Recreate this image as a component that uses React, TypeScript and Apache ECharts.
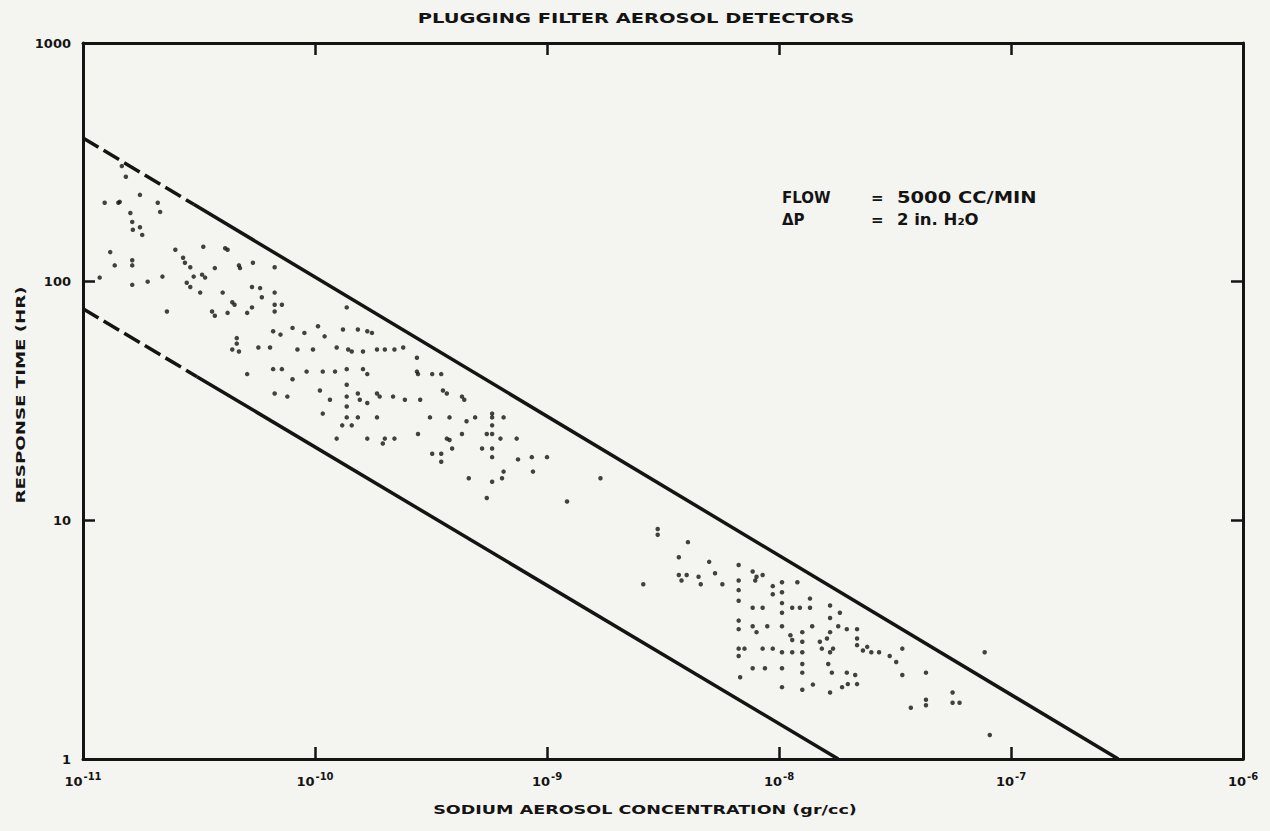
import React, { useEffect, useRef } from "react";
import * as echarts from "echarts";

// Axis extents (log scales)
const xRange = [1e-11, 1e-6];
const yRange = [1, 1000];

// Boundary lines of the data band [concentration gr/cc, response time hr]
const upperBoundDashed = [[1e-11, 400], [3e-11, 211]];
const upperBoundSolid = [[3e-11, 211], [2.9e-7, 1]];
const lowerBoundDashed = [[1e-11, 77], [3.1e-11, 40]];
const lowerBoundSolid = [[3.1e-11, 40], [1.8e-8, 1]];

// Measured points, low concentration group (10^-11 .. 10^-9)
const lowRangePoints = [
  [1.24e-11, 214], [1.42e-11, 214], [1.6e-11, 194], [1.63e-11, 178], [1.64e-11, 165],
  [1.76e-11, 169], [1.8e-11, 157], [1.76e-11, 231], [2.1e-11, 214], [2.15e-11, 196],
  [1.31e-11, 133], [1.37e-11, 117], [1.63e-11, 123], [1.63e-11, 117], [1.63e-11, 97],
  [1.18e-11, 104], [1.9e-11, 100], [2.2e-11, 105], [2.3e-11, 75], [2.5e-11, 136],
  [2.7e-11, 126], [2.75e-11, 120], [2.9e-11, 115], [2.8e-11, 99], [2.9e-11, 95],
  [3.0e-11, 105], [3.26e-11, 107], [3.36e-11, 104], [3.2e-11, 90], [3.3e-11, 140],
  [3.7e-11, 114], [4.1e-11, 138], [4.2e-11, 136], [4.0e-11, 90], [3.6e-11, 75],
  [3.7e-11, 72], [4.2e-11, 74], [4.4e-11, 82], [4.5e-11, 80], [4.7e-11, 117],
  [4.75e-11, 114], [5.4e-11, 120], [5.1e-11, 74], [5.35e-11, 78], [5.35e-11, 95],
  [5.8e-11, 94], [5.9e-11, 86], [6.7e-11, 115], [6.7e-11, 90], [6.7e-11, 80],
  [6.7e-11, 75], [7.2e-11, 80], [4.6e-11, 58], [4.6e-11, 55], [4.4e-11, 52],
  [4.7e-11, 51], [5.7e-11, 53], [6.4e-11, 53], [6.6e-11, 62], [7.1e-11, 60],
  [5.1e-11, 41], [6.6e-11, 43], [7.2e-11, 43], [8.0e-11, 64], [8.4e-11, 52],
  [9.0e-11, 61], [9.8e-11, 52], [1.03e-10, 65], [1.1e-10, 59], [1.24e-10, 53],
  [1.32e-10, 63], [1.53e-10, 63], [1.37e-10, 78], [1.39e-10, 52], [1.44e-10, 51],
  [1.68e-10, 62], [1.76e-10, 61], [1.61e-10, 51], [1.85e-10, 52], [2.0e-10, 52],
  [9.2e-11, 42], [1.08e-10, 42], [1.22e-10, 42], [1.37e-10, 43], [1.61e-10, 43],
  [1.68e-10, 41], [8.0e-11, 39], [6.7e-11, 34], [7.6e-11, 33], [1.05e-10, 35],
  [1.16e-10, 32], [1.37e-10, 37], [1.37e-10, 33], [1.37e-10, 30], [1.37e-10, 27],
  [1.53e-10, 34], [1.56e-10, 32], [1.68e-10, 31], [1.85e-10, 34], [1.9e-10, 33],
  [2.17e-10, 33], [2.44e-10, 32], [2.84e-10, 32], [2.75e-10, 42], [2.78e-10, 41],
  [2.2e-10, 52], [2.4e-10, 53], [2.75e-10, 48], [3.2e-10, 41], [3.5e-10, 41],
  [3.56e-10, 35], [3.7e-10, 34], [4.3e-10, 33], [4.4e-10, 32], [1.08e-10, 28],
  [1.31e-10, 25], [1.44e-10, 25], [1.53e-10, 27], [1.85e-10, 27], [1.24e-10, 22],
  [1.68e-10, 22], [2.0e-10, 22], [1.96e-10, 21], [2.2e-10, 22], [2.78e-10, 23],
  [3.13e-10, 27], [3.8e-10, 27], [3.2e-10, 19], [3.5e-10, 19], [3.5e-10, 17.6],
  [3.7e-10, 22], [3.8e-10, 21.7], [4.3e-10, 23], [3.9e-10, 20], [4.5e-10, 26],
  [4.9e-10, 27], [5.8e-10, 28], [5.8e-10, 27], [5.8e-10, 25], [5.8e-10, 23],
  [5.5e-10, 23], [6.3e-10, 22], [7.4e-10, 22], [5.25e-10, 20], [5.8e-10, 20],
  [5.8e-10, 18.4], [6.5e-10, 16], [6.4e-10, 15], [5.8e-10, 14.5], [4.6e-10, 15],
  [7.5e-10, 18], [8.6e-10, 18.4], [1.0e-9, 18.4], [8.7e-10, 16], [5.5e-10, 12.4],
  [6.5e-10, 27], [1.47e-11, 305], [1.53e-11, 275], [1.44e-11, 216]
];

// Measured points, high concentration group (10^-9 .. 10^-7)
const highRangePoints = [
  [1.22e-9, 12], [1.7e-9, 15], [3.0e-9, 9.2], [3.0e-9, 8.7], [4.05e-9, 8.1],
  [3.7e-9, 7.0], [2.6e-9, 5.4], [3.7e-9, 5.9], [3.8e-9, 5.6], [4.0e-9, 5.9],
  [4.5e-9, 5.8], [4.6e-9, 5.4], [5.0e-9, 6.7], [5.3e-9, 6.0], [5.7e-9, 5.4],
  [6.7e-9, 6.5], [6.7e-9, 5.6], [6.7e-9, 5.1], [6.7e-9, 4.6], [6.7e-9, 3.8],
  [6.7e-9, 3.5], [6.7e-9, 2.9], [6.7e-9, 2.7], [6.8e-9, 2.2], [7.7e-9, 6.1],
  [8.0e-9, 5.8], [7.9e-9, 5.6], [8.5e-9, 5.9], [7.7e-9, 4.3], [8.5e-9, 4.3],
  [7.7e-9, 3.6], [8.0e-9, 3.4], [8.9e-9, 3.6], [7.1e-9, 2.9], [7.7e-9, 2.4],
  [8.7e-9, 2.4], [1.03e-8, 5.5], [1.03e-8, 5.0], [1.03e-8, 4.5], [1.03e-8, 4.1],
  [1.03e-8, 3.6], [9.4e-9, 5.3], [9.4e-9, 4.9], [8.5e-9, 2.9], [9.4e-9, 2.9],
  [1.03e-8, 2.8], [1.03e-8, 2.4], [1.14e-8, 4.3], [1.23e-8, 4.3], [1.12e-8, 3.3],
  [1.14e-8, 3.15], [1.14e-8, 2.8], [1.36e-8, 4.7], [1.36e-8, 4.3], [1.39e-8, 3.6],
  [1.2e-8, 5.5], [1.26e-8, 3.4], [1.26e-8, 3.1], [1.26e-8, 2.8], [1.26e-8, 2.5],
  [1.26e-8, 2.3], [1.26e-8, 1.95], [1.03e-8, 2.0], [1.4e-8, 2.05], [1.66e-8, 4.4],
  [1.66e-8, 3.9], [1.83e-8, 4.1], [1.5e-8, 3.1], [1.53e-8, 2.9], [1.66e-8, 3.4],
  [1.61e-8, 3.2], [1.8e-8, 3.6], [1.96e-8, 3.5], [1.66e-8, 2.8], [1.71e-8, 2.9],
  [1.63e-8, 2.5], [1.69e-8, 2.3], [1.96e-8, 2.3], [2.13e-8, 2.25], [1.87e-8, 2.0],
  [1.98e-8, 2.06], [2.17e-8, 2.06], [1.66e-8, 1.9], [2.17e-8, 3.5], [2.17e-8, 3.2],
  [2.17e-8, 3.0], [2.3e-8, 2.85], [2.5e-8, 2.8], [2.7e-8, 2.8], [2.4e-8, 2.95],
  [3.0e-8, 2.7], [3.2e-8, 2.55], [3.4e-8, 2.9], [3.4e-8, 2.25], [4.3e-8, 2.3],
  [5.6e-8, 1.9], [4.3e-8, 1.77], [4.3e-8, 1.68], [3.7e-8, 1.64], [5.6e-8, 1.72],
  [6.0e-8, 1.72], [7.7e-8, 2.8], [8.1e-8, 1.26]
];

const titleText = "PLUGGING FILTER AEROSOL DETECTORS";
const xAxisTitle = "SODIUM AEROSOL CONCENTRATION (gr/cc)";
const yAxisTitle = "RESPONSE TIME (HR)";
const flowLabel = ["FLOW", "=", "5000 CC/MIN"];
const pressureLabel = ["\u0394P", "=", "2 in. H\u2082O"];

const INK = "#141414";
const FONT = "DejaVu Sans";

export default function App() {
  const ref = useRef<HTMLDivElement>(null);

  useEffect(() => {
    if (!ref.current) return;
    const chart = echarts.init(ref.current, undefined, { renderer: "svg" });

    const axisLineStyle = { color: INK, width: 3 };
    const tickStyle = { show: true, inside: true, length: 12, lineStyle: { color: INK, width: 2.5 } };

    const xLabel = {
      show: true,
      margin: 12,
      formatter: (v: number) => `{b|10}{s|${Math.round(Math.log10(v))}}`,
      rich: {
        b: { fontSize: 13, fontWeight: "bold", fontFamily: FONT, color: INK, verticalAlign: "bottom" },
        s: { fontSize: 10, fontWeight: "bold", fontFamily: FONT, color: INK, verticalAlign: "bottom", padding: [0, 0, 7, 1] },
      },
    };

    const txt = (text: string, x: number, y: number, size: number, sx: number, align = "left", rot = 0) => ({
      type: "text",
      x,
      y,
      rotation: rot,
      scaleX: sx,
      silent: true,
      style: {
        text,
        fill: INK,
        font: `bold ${size}px "${FONT}"`,
        textAlign: align,
        textVerticalAlign: "middle",
      },
    });

    chart.setOption({
      animation: false,
      backgroundColor: "#f4f4f1",
      grid: { left: 83, top: 43, right: 27, bottom: 72, containLabel: false },
      xAxis: [
        {
          type: "log",
          logBase: 10,
          min: xRange[0],
          max: xRange[1],
          position: "bottom",
          axisLine: { show: true, lineStyle: axisLineStyle },
          axisTick: tickStyle,
          minorTick: { show: false },
          splitLine: { show: false },
          axisLabel: xLabel,
        },
        {
          type: "log",
          logBase: 10,
          min: xRange[0],
          max: xRange[1],
          position: "top",
          axisLine: { show: true, lineStyle: axisLineStyle },
          axisTick: tickStyle,
          splitLine: { show: false },
          axisLabel: { show: false },
        },
      ],
      yAxis: [
        {
          type: "log",
          logBase: 10,
          min: yRange[0],
          max: yRange[1],
          position: "left",
          axisLine: { show: true, lineStyle: axisLineStyle },
          axisTick: tickStyle,
          splitLine: { show: false },
          axisLabel: {
            show: true,
            margin: 12,
            color: INK,
            fontSize: 13,
            fontWeight: "bold",
            fontFamily: FONT,
            formatter: (v: number) => String(Math.round(v)),
          },
        },
        {
          type: "log",
          logBase: 10,
          min: yRange[0],
          max: yRange[1],
          position: "right",
          axisLine: { show: true, lineStyle: axisLineStyle },
          axisTick: tickStyle,
          splitLine: { show: false },
          axisLabel: { show: false },
        },
      ],
      series: [
        {
          type: "line",
          data: upperBoundDashed,
          symbol: "none",
          lineStyle: { color: INK, width: 3.5, type: [18, 6] },
          silent: true,
        },
        {
          type: "line",
          data: upperBoundSolid,
          symbol: "none",
          lineStyle: { color: INK, width: 3.5 },
          silent: true,
        },
        {
          type: "line",
          data: lowerBoundDashed,
          symbol: "none",
          lineStyle: { color: INK, width: 3.5, type: [18, 6] },
          silent: true,
        },
        {
          type: "line",
          data: lowerBoundSolid,
          symbol: "none",
          lineStyle: { color: INK, width: 3.5 },
          silent: true,
        },
        {
          type: "scatter",
          data: lowRangePoints,
          symbol: "circle",
          symbolSize: 4.5,
          itemStyle: { color: INK },
          silent: true,
        },
        {
          type: "scatter",
          data: highRangePoints,
          symbol: "circle",
          symbolSize: 4.5,
          itemStyle: { color: INK },
          silent: true,
        },
      ],
      graphic: [
        txt(titleText, 636, 18, 14, 1.39, "center"),
        txt(xAxisTitle, 645, 810, 13, 1.35, "center"),
        txt(yAxisTitle, 20, 395, 13, 1.4, "center", Math.PI / 2),
        txt(flowLabel[0], 782, 198, 15, 1.0),
        txt(flowLabel[1], 871, 198, 15, 1.0),
        txt(flowLabel[2], 897, 198, 15, 1.3),
        txt(pressureLabel[0], 782, 220, 15, 1.0),
        txt(pressureLabel[1], 871, 220, 15, 1.0),
        txt(pressureLabel[2], 897, 220, 15, 1.1),
      ],
    });

    return () => chart.dispose();
  }, []);

  return (
    <div
      ref={ref}
      style={{ position: "fixed", left: 0, top: 0, width: 1270, height: 831, background: "#f4f4f1" }}
    />
  );
}
